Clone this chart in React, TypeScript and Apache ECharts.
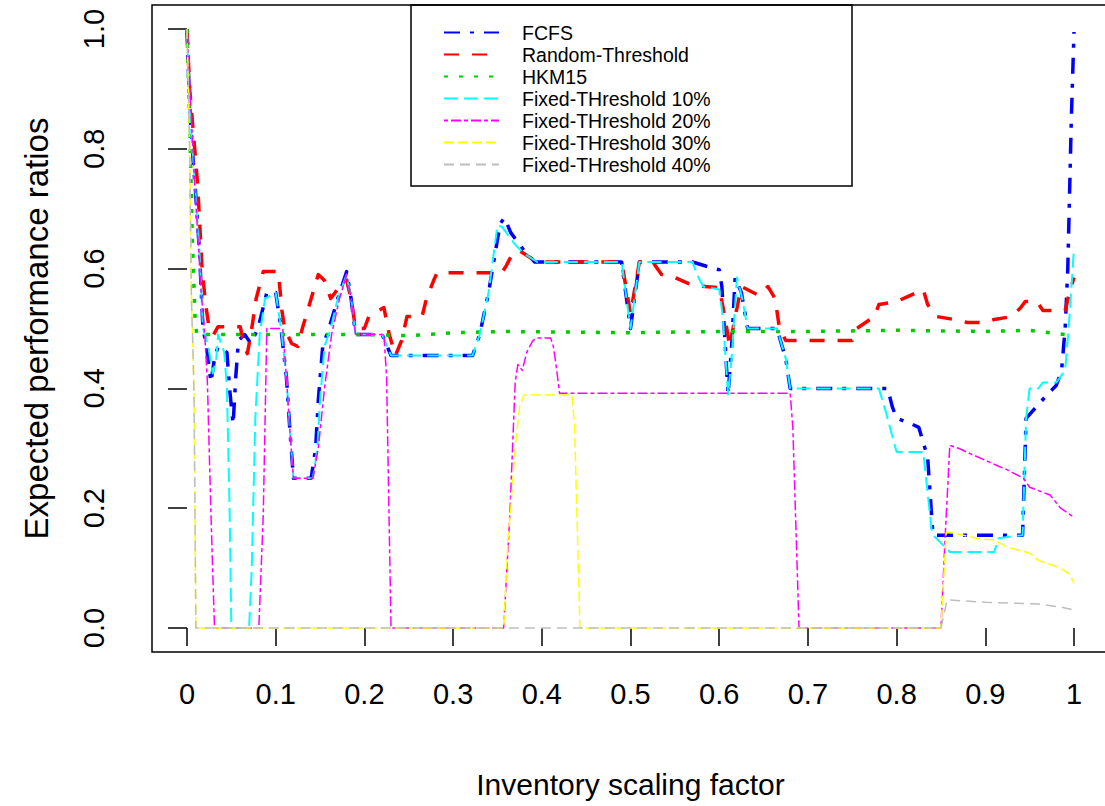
import React, { useEffect, useRef } from "react";
import * as echarts from "echarts";

const seriesNames = [
  "FCFS",
  "Random-Threshold",
  "HKM15",
  "Fixed-THreshold 10%",
  "Fixed-THreshold 20%",
  "Fixed-THreshold 30%",
  "Fixed-THreshold 40%",
];

const fcfs = [
  [0, 1.0], [0.003, 0.87], [0.006, 0.8], [0.01, 0.72], [0.014, 0.63], [0.018, 0.5], [0.022, 0.47],
  [0.027, 0.41], [0.031, 0.45], [0.035, 0.47], [0.045, 0.46], [0.048, 0.4], [0.052, 0.34], [0.055, 0.42],
  [0.058, 0.48], [0.065, 0.49], [0.072, 0.475], [0.08, 0.5], [0.09, 0.56], [0.1, 0.56], [0.106, 0.5],
  [0.112, 0.42], [0.116, 0.33], [0.12, 0.25], [0.14, 0.25], [0.145, 0.3], [0.148, 0.38], [0.153, 0.47],
  [0.16, 0.5], [0.17, 0.55], [0.18, 0.595], [0.185, 0.55], [0.19, 0.49], [0.22, 0.49], [0.23, 0.455],
  [0.322, 0.455], [0.33, 0.49], [0.34, 0.56], [0.353, 0.675], [0.358, 0.685], [0.365, 0.66], [0.38, 0.63],
  [0.392, 0.611], [0.49, 0.611], [0.5, 0.5], [0.51, 0.611], [0.57, 0.611], [0.59, 0.602], [0.6, 0.598],
  [0.603, 0.57], [0.61, 0.39], [0.614, 0.47], [0.618, 0.585], [0.625, 0.56], [0.632, 0.5], [0.665, 0.5],
  [0.675, 0.45], [0.68, 0.4], [0.79, 0.4], [0.795, 0.37], [0.8, 0.35], [0.815, 0.342], [0.825, 0.335],
  [0.835, 0.285], [0.841, 0.155], [0.942, 0.155], [0.946, 0.35], [0.958, 0.37], [0.97, 0.39], [0.98, 0.405],
  [0.986, 0.43], [0.99, 0.5], [0.993, 0.6], [0.997, 0.85], [1.0, 0.995],
];

const randomThreshold = [
  [0, 1.0], [0.003, 0.9], [0.007, 0.83], [0.012, 0.74], [0.017, 0.6], [0.021, 0.54], [0.025, 0.5],
  [0.03, 0.49], [0.035, 0.503], [0.06, 0.503], [0.064, 0.475], [0.068, 0.458], [0.072, 0.49], [0.078, 0.55],
  [0.086, 0.595], [0.103, 0.595], [0.107, 0.53], [0.11, 0.5], [0.118, 0.475], [0.125, 0.47], [0.13, 0.5],
  [0.14, 0.55], [0.148, 0.59], [0.155, 0.58], [0.162, 0.55], [0.172, 0.57], [0.18, 0.58], [0.185, 0.55],
  [0.19, 0.5], [0.2, 0.5], [0.205, 0.52], [0.222, 0.535], [0.228, 0.49], [0.235, 0.455], [0.242, 0.48],
  [0.248, 0.52], [0.265, 0.52], [0.27, 0.55], [0.278, 0.58], [0.282, 0.593], [0.355, 0.593], [0.36, 0.605],
  [0.367, 0.625], [0.375, 0.63], [0.385, 0.62], [0.395, 0.611], [0.49, 0.611], [0.5, 0.525], [0.51, 0.611],
  [0.525, 0.611], [0.535, 0.59], [0.55, 0.585], [0.57, 0.572], [0.6, 0.568], [0.605, 0.53], [0.612, 0.47],
  [0.618, 0.52], [0.625, 0.57], [0.645, 0.555], [0.655, 0.57], [0.663, 0.55], [0.668, 0.5], [0.675, 0.48],
  [0.75, 0.48], [0.755, 0.5], [0.765, 0.51], [0.775, 0.52], [0.78, 0.54], [0.8, 0.545], [0.815, 0.555],
  [0.83, 0.565], [0.835, 0.54], [0.845, 0.52], [0.865, 0.515], [0.88, 0.51], [0.9, 0.51], [0.91, 0.515],
  [0.93, 0.52], [0.94, 0.535], [0.945, 0.545], [0.958, 0.545], [0.965, 0.53], [0.99, 0.53], [0.995, 0.56],
  [1.0, 0.585],
];

const hkm15 = [
  [0, 1.0], [0.003, 0.85], [0.006, 0.65], [0.009, 0.52], [0.011, 0.49], [0.1, 0.49], [0.2, 0.49],
  [0.25, 0.488], [0.3, 0.493], [0.36, 0.495], [0.5, 0.493], [0.6, 0.495], [0.7, 0.495], [0.8, 0.497],
  [0.9, 0.495], [0.95, 0.497], [0.99, 0.49], [1.0, 0.49],
];

const fixed10 = [
  [0, 1.0], [0.003, 0.87], [0.006, 0.8], [0.01, 0.72], [0.014, 0.63], [0.018, 0.5], [0.024, 0.47],
  [0.029, 0.425], [0.033, 0.45], [0.035, 0.49], [0.042, 0.46], [0.045, 0.4], [0.048, 0.2], [0.05, 0],
  [0.07, 0], [0.073, 0.1], [0.077, 0.35], [0.082, 0.49], [0.088, 0.55], [0.1, 0.56], [0.106, 0.5],
  [0.112, 0.42], [0.116, 0.33], [0.12, 0.25], [0.142, 0.25], [0.147, 0.3], [0.15, 0.38], [0.155, 0.47],
  [0.162, 0.5], [0.17, 0.55], [0.18, 0.59], [0.185, 0.55], [0.19, 0.49], [0.22, 0.49], [0.23, 0.455],
  [0.322, 0.455], [0.33, 0.49], [0.34, 0.56], [0.35, 0.672], [0.355, 0.67], [0.37, 0.64], [0.38, 0.625],
  [0.395, 0.611], [0.49, 0.611], [0.5, 0.5], [0.51, 0.611], [0.57, 0.611], [0.575, 0.59], [0.582, 0.57],
  [0.6, 0.565], [0.604, 0.52], [0.61, 0.39], [0.614, 0.45], [0.62, 0.585], [0.626, 0.55], [0.632, 0.5],
  [0.665, 0.5], [0.675, 0.45], [0.68, 0.4], [0.78, 0.4], [0.788, 0.36], [0.797, 0.31], [0.8, 0.294],
  [0.83, 0.294], [0.84, 0.157], [0.86, 0.127], [0.91, 0.127], [0.915, 0.15], [0.942, 0.155], [0.946, 0.35],
  [0.95, 0.4], [0.96, 0.4], [0.965, 0.41], [0.98, 0.41], [0.99, 0.43], [0.994, 0.5], [1.0, 0.635],
];

const fixed20 = [
  [0, 1.0], [0.004, 0.88], [0.008, 0.76], [0.012, 0.66], [0.016, 0.56], [0.02, 0.49], [0.023, 0.41],
  [0.027, 0.19], [0.031, 0], [0.081, 0], [0.086, 0.19], [0.09, 0.5], [0.108, 0.5], [0.112, 0.42],
  [0.116, 0.33], [0.12, 0.25], [0.142, 0.25], [0.148, 0.3], [0.155, 0.4], [0.163, 0.49], [0.172, 0.55],
  [0.18, 0.59], [0.185, 0.55], [0.19, 0.49], [0.222, 0.49], [0.225, 0.42], [0.23, 0], [0.357, 0],
  [0.364, 0.19], [0.37, 0.41], [0.373, 0.44], [0.378, 0.43], [0.383, 0.46], [0.39, 0.48], [0.395, 0.484],
  [0.41, 0.484], [0.413, 0.47], [0.416, 0.44], [0.42, 0.392], [0.68, 0.392], [0.683, 0.335], [0.69, 0],
  [0.85, 0], [0.855, 0.16], [0.86, 0.305], [0.87, 0.3], [0.88, 0.293], [0.9, 0.28], [0.915, 0.27],
  [0.925, 0.264], [0.943, 0.25], [0.95, 0.235], [0.973, 0.222], [0.985, 0.2], [1.0, 0.185],
];

const fixed30 = [
  [0, 1.0], [0.003, 0.8], [0.005, 0.55], [0.007, 0.45], [0.008, 0.38], [0.01, 0], [0.357, 0],
  [0.362, 0.15], [0.365, 0.2], [0.37, 0.3], [0.375, 0.37], [0.38, 0.389], [0.434, 0.389], [0.437, 0.335],
  [0.443, 0], [0.85, 0], [0.853, 0.08], [0.856, 0.16], [0.86, 0.16], [0.875, 0.155], [0.89, 0.15],
  [0.91, 0.147], [0.925, 0.135], [0.95, 0.125], [0.96, 0.113], [0.985, 0.1], [0.995, 0.09], [1.0, 0.075],
];

const fixed40 = [
  [0, 1.0], [0.003, 0.8], [0.005, 0.55], [0.007, 0.45], [0.008, 0.38], [0.01, 0], [0.85, 0],
  [0.857, 0.047], [0.9, 0.043], [0.96, 0.04], [0.985, 0.035], [1.0, 0.03],
];

const seriesData = [fcfs, randomThreshold, hkm15, fixed10, fixed20, fixed30, fixed40];
const colors = ["#0000ff", "#ff0000", "#00cd00", "#00ffff", "#ff00ff", "#ffff00", "#bebebe"];
const widths = [3.5, 3.5, 3.5, 2, 1.5, 1.5, 1.5];
const dashes = [
  [16, 10, 4, 10],
  [15, 13],
  [4, 11],
  [14, 6],
  [4, 3, 10, 3],
  [10, 4],
  [10, 6],
];

const FONT = "'Liberation Sans', Arial, sans-serif";

export default function App() {
  const ref = useRef<HTMLDivElement>(null);
  useEffect(() => {
    if (!ref.current) return;
    const chart = echarts.init(ref.current, null, { renderer: "svg" });
    const series = seriesNames.map((name, i) => ({
      name,
      type: "line",
      data: seriesData[i],
      showSymbol: false,
      symbol: "none",
      symbolSize: 0,
      clip: false,
      z: 2 + i,
      lineStyle: { color: colors[i], width: widths[i], type: dashes[i], cap: "butt", join: "round" },
      itemStyle: { color: colors[i] },
    }));
    chart.setOption({
      animation: false,
      backgroundColor: "#ffffff",
      grid: { left: 187, top: 29, width: 887, height: 599, containLabel: false },
      xAxis: {
        type: "value",
        min: 0,
        max: 1,
        interval: 0.1,
        offset: 24,
        name: "Inventory scaling factor",
        nameLocation: "middle",
        nameGap: 117,
        nameTextStyle: { fontSize: 30, color: "#000", fontFamily: FONT },
        axisLine: { show: false },
        axisTick: { show: true, length: 18, lineStyle: { color: "#000", width: 1.5 } },
        axisLabel: { fontSize: 29, color: "#000", fontFamily: FONT, margin: 27 },
        splitLine: { show: false },
      },
      yAxis: {
        type: "value",
        min: 0,
        max: 1,
        interval: 0.2,
        offset: 35,
        name: "Expected performance ratios",
        nameLocation: "middle",
        nameGap: 99,
        nameTextStyle: { fontSize: 33, color: "#000", fontFamily: FONT },
        axisLine: { show: false },
        axisTick: { show: true, length: 19, lineStyle: { color: "#000", width: 1.5 } },
        axisLabel: {
          fontSize: 29,
          color: "#000",
          fontFamily: FONT,
          rotate: 90,
          margin: 44,
          formatter: (v: number) => v.toFixed(1),
        },
        splitLine: { show: false },
      },
      legend: {
        show: true,
        orient: "vertical",
        left: 438,
        top: 17.5,
        itemWidth: 55,
        itemHeight: 14,
        itemGap: 2,
        data: seriesNames,
        itemStyle: { opacity: 0 },
        textStyle: { fontSize: 19.5, color: "#000", fontFamily: FONT, padding: [0, 0, 0, 18] },
        inactiveColor: "#ccc",
      },
      graphic: [
        {
          type: "rect",
          z: 100,
          silent: true,
          shape: { x: 152, y: 5, width: 958, height: 647 },
          style: { fill: "none", stroke: "#000", lineWidth: 1.5 },
        },
        {
          type: "rect",
          z: 100,
          silent: true,
          shape: { x: 411, y: 5, width: 441, height: 181 },
          style: { fill: "none", stroke: "#000", lineWidth: 1.5 },
        },
      ],
      series,
    });
    return () => chart.dispose();
  }, []);
  return (
    <div
      ref={ref}
      style={{ position: "absolute", left: 0, top: 0, width: 1105, height: 806 }}
    />
  );
}
